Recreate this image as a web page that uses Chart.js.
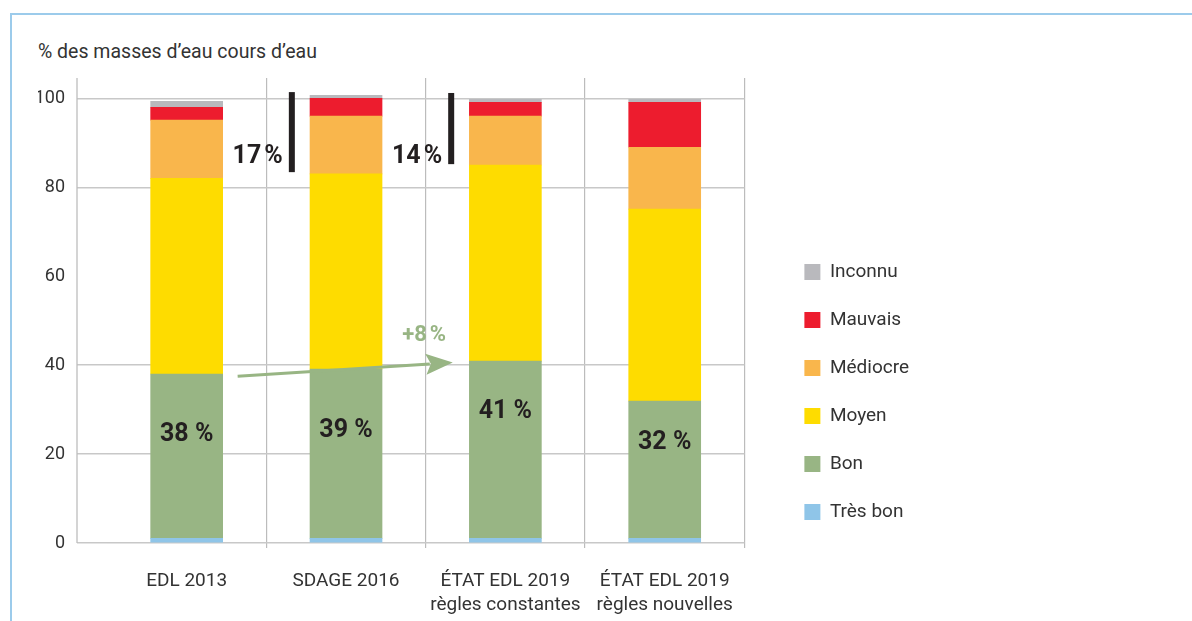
<!DOCTYPE html>
<html lang="fr">
<head>
<meta charset="utf-8">
<title>État des masses d'eau cours d'eau</title>
<script src="https://cdn.jsdelivr.net/npm/chart.js@4.4.1/dist/chart.umd.min.js"></script>
<style>
  html, body { margin: 0; padding: 0; background: #fff; }
  #wrap { position: relative; width: 1192px; height: 621px; overflow: hidden; }
  #frame { position: absolute; left: 10px; top: 13px; width: 1200px; height: 700px;
           border-top: 2px solid #9ccbeb; border-left: 2px solid #9ccbeb; }
  #titre { position: absolute; left: 38px; top: 40px; font: 19.5px Roboto, sans-serif; color: #333; }
  canvas { position: absolute; left: 0; top: 0; }
</style>
</head>
<body>
<div id="wrap">
  <div id="frame"></div>
  <div id="titre">% des masses d’eau cours d’eau</div>
  <canvas id="chart" width="1192" height="621"></canvas>
</div>
<script>
// ---- données ----
const categories = [
  ["EDL 2013"],
  ["SDAGE 2016"],
  ["ÉTAT EDL 2019", "règles constantes"],
  ["ÉTAT EDL 2019", "règles nouvelles"],
];
const tresBon = [1.05, 1.05, 1.05, 1.05];
const bon = [36.95, 38.05, 39.85, 30.85];
const moyen = [44.0, 43.9, 44.1, 43.2];
const mediocre = [13.1, 13.0, 11.0, 13.9];
const mauvais = [2.9, 4.0, 3.1, 10.1];
const inconnu = [1.3, 0.7, 0.7, 0.7];
const yTicks = [0, 20, 40, 60, 80, 100];

// étiquettes "bon état"
const bonEtatLabels = ["38 %", "39 %", "41 %", "32 %"];
const bonEtatLabelY = [24.4, 25.3, 29.6, 22.6];

// écarts (barres noires)
const ecartTexts = ["17\u202f%", "14\u202f%"];
const ecartX = [0.66, 1.66];
const ecartFrom = [83.4, 85.2];
const ecartTo = [101.4, 101.2];
const ecartTextY = [86.8, 86.8];

// flèche de progression
const gainText = "+8\u202f%";
const gainFrom = [0.32, 37.5];
const gainTo = [1.67, 40.6];
const gainTextPos = [1.49, 46.7];

const gridColor = "#c8c8c8";
const textColor = "#333333";

Chart.defaults.font.family = "Roboto, sans-serif";
Chart.defaults.color = textColor;

// ligne verticale de l'axe Y (décalée à gauche de la zone de tracé)
const axeY = {
  id: "axeY",
  beforeDatasetsDraw(chart) {
    const { ctx, chartArea } = chart;
    const x = chartArea.left - 30;
    ctx.save();
    ctx.strokeStyle = "#bdbdbd";
    ctx.lineWidth = 1.3;
    ctx.beginPath();
    ctx.moveTo(x, chartArea.top);
    ctx.lineTo(x, chartArea.bottom);
    ctx.stroke();
    ctx.restore();
  },
};

const annotations = {
  id: "annotations",
  afterDatasetsDraw(chart) {
    const { ctx } = chart;
    const x = chart.scales.x;
    const y = chart.scales.y;
    ctx.save();
    ctx.textBaseline = "middle";

    // pourcentages bon état
    ctx.font = "bold 25px Roboto, sans-serif";
    ctx.fillStyle = "#231f20";
    ctx.textAlign = "center";
    bonEtatLabels.forEach((t, i) => {
      ctx.fillText(t, x.getPixelForValue(i), y.getPixelForValue(bonEtatLabelY[i]));
    });

    // écarts
    ecartTexts.forEach((t, i) => {
      const px = x.getPixelForValue(ecartX[i]);
      const top = y.getPixelForValue(ecartTo[i]);
      const bot = y.getPixelForValue(ecartFrom[i]);
      ctx.fillStyle = "#231f20";
      ctx.fillRect(px - 3, top, 6, bot - top);
      ctx.textAlign = "right";
      ctx.fillText(t, px - 9, y.getPixelForValue(ecartTextY[i]));
    });

    // flèche
    const x0 = x.getPixelForValue(gainFrom[0]);
    const y0 = y.getPixelForValue(gainFrom[1]);
    const x1 = x.getPixelForValue(gainTo[0]);
    const y1 = y.getPixelForValue(gainTo[1]);
    const ang = Math.atan2(y1 - y0, x1 - x0);
    const len = 27, half = 10.5;
    const bx = x1 - len * Math.cos(ang);
    const by = y1 - len * Math.sin(ang);
    ctx.strokeStyle = "#98b584";
    ctx.fillStyle = "#98b584";
    ctx.lineWidth = 3;
    ctx.beginPath();
    ctx.moveTo(x0, y0);
    ctx.lineTo(bx + 4 * Math.cos(ang), by + 4 * Math.sin(ang));
    ctx.stroke();
    ctx.beginPath();
    ctx.moveTo(x1, y1);
    ctx.lineTo(bx - half * Math.sin(ang), by + half * Math.cos(ang));
    ctx.lineTo(bx + 5 * Math.cos(ang), by + 5 * Math.sin(ang));
    ctx.lineTo(bx + half * Math.sin(ang), by - half * Math.cos(ang));
    ctx.closePath();
    ctx.fill();

    ctx.font = "bold 22px Roboto, sans-serif";
    ctx.textAlign = "center";
    ctx.fillText(gainText, x.getPixelForValue(gainTextPos[0]), y.getPixelForValue(gainTextPos[1]));
    ctx.restore();
  },
};

new Chart(document.getElementById("chart"), {
  type: "bar",
  data: {
    labels: categories,
    datasets: [
      { label: "Très bon", data: tresBon, backgroundColor: "#8fc5e8" },
      { label: "Bon", data: bon, backgroundColor: "#98b584" },
      { label: "Moyen", data: moyen, backgroundColor: "#fedc00" },
      { label: "Médiocre", data: mediocre, backgroundColor: "#f9b64c" },
      { label: "Mauvais", data: mauvais, backgroundColor: "#ed1c2e" },
      { label: "Inconnu", data: inconnu, backgroundColor: "#b9b9bd" },
    ],
  },
  options: {
    responsive: false,
    animation: false,
    barThickness: 72,
    layout: { padding: { top: 78, left: 38, right: 273, bottom: 0 } },
    plugins: {
      tooltip: { enabled: false },
      title: { display: false },
      legend: {
        position: "right",
        reverse: true,
        align: "center",
        title: { display: true, text: " ", padding: 31, font: { size: 19 } },
        labels: {
          boxWidth: 16,
          boxHeight: 16,
          padding: 29,
          color: textColor,
          font: { size: 19 },
        },
      },
    },
    scales: {
      x: {
        stacked: true,
        offset: true,
        grid: {
          offset: true,
          tickLength: 5,
          lineWidth: 1.2,
          color: (c) => (c.index === 0 ? "rgba(0,0,0,0)" : "#bcbcbc"),
        },
        border: { display: false },
        ticks: { padding: 21, color: textColor, font: { size: 19, lineHeight: 1.27 }, maxRotation: 0 },
        afterFit(s) { s.height = 78; },
      },
      y: {
        stacked: true,
        min: 0,
        max: 104.57,
        afterBuildTicks(s) { s.ticks = yTicks.map((v) => ({ value: v })); },
        grid: {
          tickLength: 30,
          lineWidth: 1.5,
          color: (c) => (c.tick && c.tick.value === 60 ? "rgba(0,0,0,0)" : gridColor),
        },
        border: { display: false },
        ticks: { padding: 12, color: textColor, font: { size: 18 } },
        afterFit(s) { s.width = 69; },
      },
      espace: {
        position: "right",
        display: true,
        grid: { display: false },
        border: { display: false },
        ticks: { display: false },
        afterFit(s) { s.width = 31; },
      },
    },
  },
  plugins: [axeY, annotations],
});
</script>
</body>
</html>
